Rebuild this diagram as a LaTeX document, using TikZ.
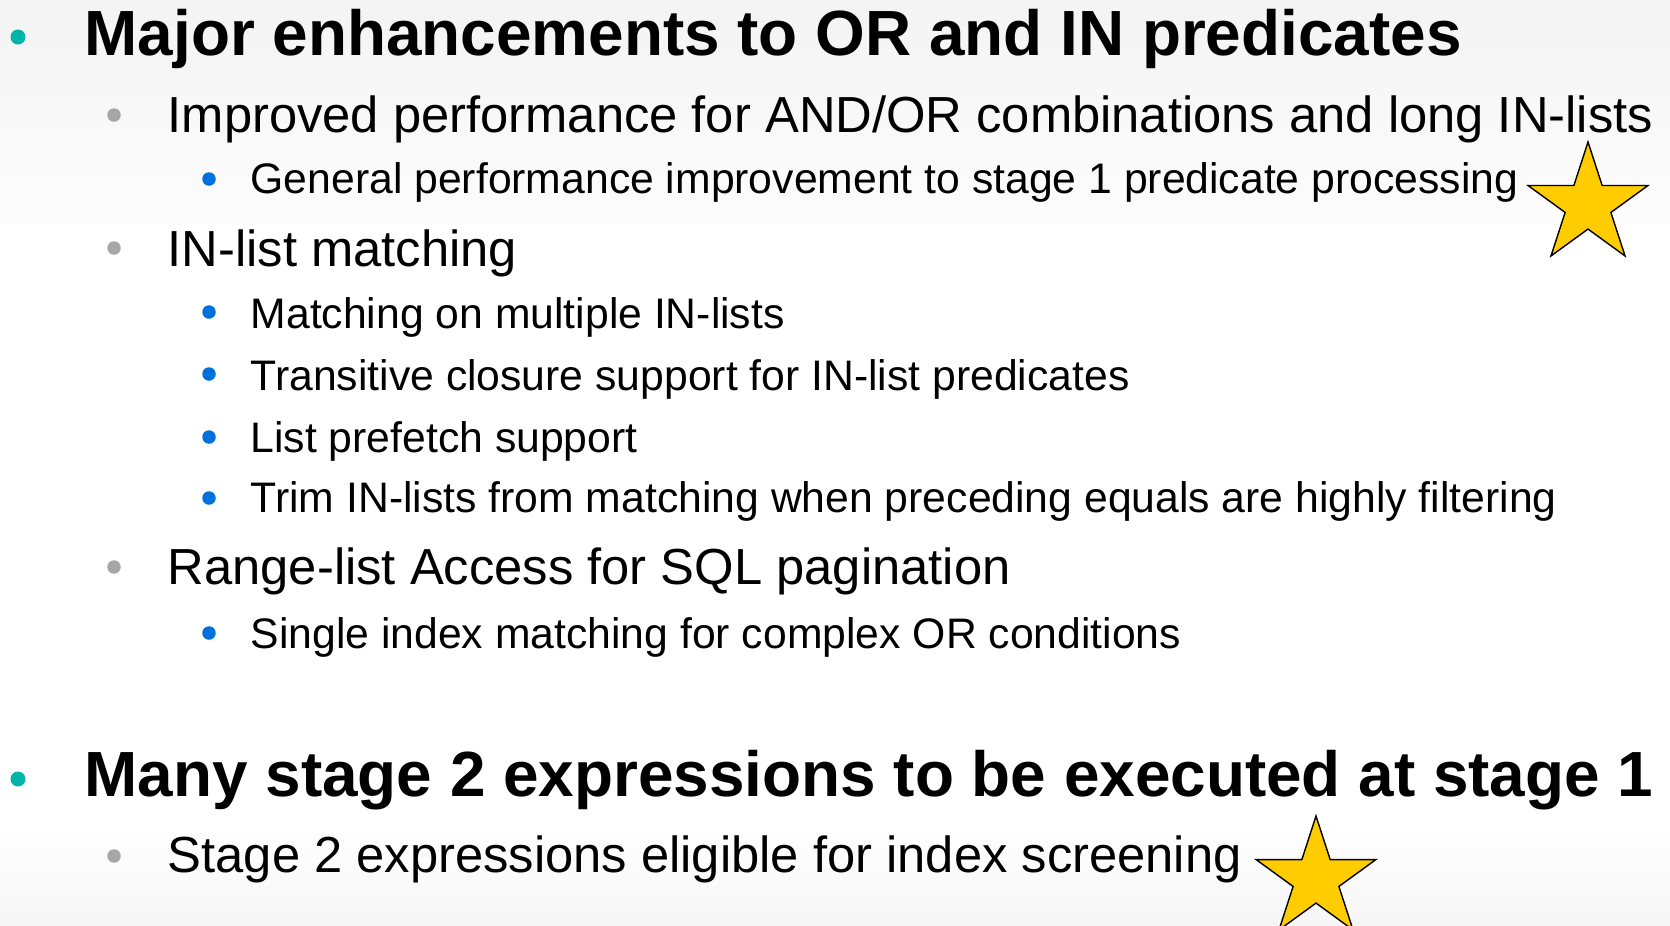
\documentclass[tikz,border=0pt]{standalone}
\usepackage{fontspec}
\setmainfont{Liberation Sans}
\usetikzlibrary{shapes.geometric}
\definecolor{bulteal}{RGB}{0,181,168}
\definecolor{bulgray}{RGB}{166,166,166}
\definecolor{bulblue}{RGB}{0,112,221}
\definecolor{stargold}{RGB}{255,204,0}
\tikzstyle{head} = [anchor=base west, inner sep=0pt,
                    font=\fontsize{18.17pt}{20pt}\selectfont\bfseries]
\tikzstyle{item} = [anchor=base west, inner sep=0pt,
                    font=\fontsize{14.43pt}{17pt}\selectfont]
\tikzstyle{subitem} = [anchor=base west, inner sep=0pt,
                       font=\fontsize{12.15pt}{14pt}\selectfont]

\begin{document}
\begin{tikzpicture}[x=0.1mm, y=-0.1mm,
dot/.style={circle, inner sep=0pt, minimum size=1.35mm},
award/.style={star, star points=5, star point ratio=2.618, minimum size=12.6mm,
              inner sep=0pt, draw=black, line width=0.4pt, fill=stargold}]
\useasboundingbox (0,0) rectangle (1670,925);
%Background bands
\shade[top color=gray!9, bottom color=gray!2] (0,0) rectangle (1670,224);
\shade[top color=white, bottom color=gray!7] (0,823) rectangle (1670,925);

%OR and IN predicates
\node[dot, fill=bulteal, minimum size=1.5mm] at (18,37) (b1) {};
\node[head] at (84,55) (major) {Major enhancements to OR and IN predicates};
\node[dot, fill=bulgray] at (114,115) (b2) {};
\node[item] at (167,132) (andor) {Improved performance for AND/OR combinations and long IN-lists};
\node[dot, fill=bulblue] at (209,179) (b3) {};
\node[subitem] at (250,193) (general) {General performance improvement to stage 1 predicate processing};
\node[award] at (1588,205) (star1) {};

%IN-list matching
\node[dot, fill=bulgray] at (114,248) (b4) {};
\node[item] at (167,266) (inlist) {IN-list matching};
\node[dot, fill=bulblue] at (209,312) (b5) {};
\node[subitem] at (250,328) (multi) {Matching on multiple IN-lists};
\node[dot, fill=bulblue] at (209,374) (b6) {};
\node[subitem] at (250,390) (trans) {Transitive closure support for IN-list predicates};
\node[dot, fill=bulblue] at (209,437) (b7) {};
\node[subitem] at (250,452) (prefetch) {List prefetch support};
\node[dot, fill=bulblue] at (209,498) (b8) {};
\node[subitem] at (250,512) (trim) {Trim IN-lists from matching when preceding equals are highly filtering};

%Range-list
\node[dot, fill=bulgray] at (114,567) (b9) {};
\node[item] at (167,584) (range) {Range-list Access for SQL pagination};
\node[dot, fill=bulblue] at (209,633) (b10) {};
\node[subitem] at (250,648) (single) {Single index matching for complex OR conditions};

%Stage 2 expressions
\node[dot, fill=bulteal, minimum size=1.5mm] at (18,779) (b11) {};
\node[head] at (84,796) (many) {Many stage 2 expressions to be executed at stage 1};
\node[dot, fill=bulgray] at (114,856) (b12) {};
\node[item] at (167,872) (screen) {Stage 2 expressions eligible for index screening};
\node[award] at (1316,879) (star2) {};
\end{tikzpicture}
\end{document}
